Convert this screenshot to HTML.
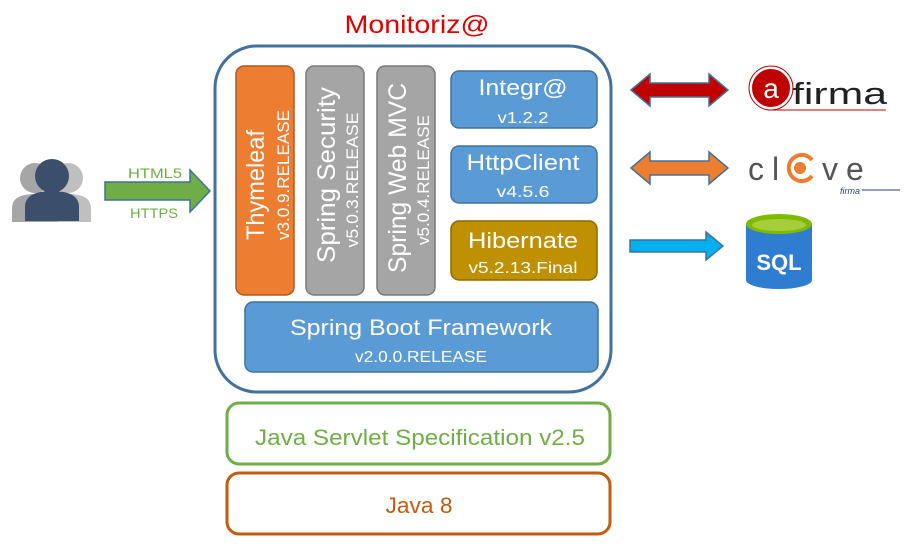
<!DOCTYPE html>
<html><head><style>body{margin:0;background:#fff}svg{display:block}text{font-family:"Liberation Sans",sans-serif}</style></head>
<body>
<svg width="919" height="549" viewBox="0 0 919 549" xmlns="http://www.w3.org/2000/svg">
<text x="417" y="33" font-size="25" fill="#E00000" text-anchor="middle" textLength="145" lengthAdjust="spacingAndGlyphs">Monitoriz@</text>
<rect x="215" y="46" width="396" height="346" rx="42" fill="#fff" stroke="#41719C" stroke-width="3"/>
<rect x="236" y="66" width="58" height="229" rx="8" fill="#ED7D31" stroke="#AE5A21" stroke-width="1.5"/>
<rect x="306" y="66" width="58" height="229" rx="8" fill="#A5A5A5" stroke="#787878" stroke-width="1.5"/>
<rect x="377" y="66" width="58" height="229" rx="8" fill="#A5A5A5" stroke="#787878" stroke-width="1.5"/>
<g fill="#fff" text-anchor="middle">
<text transform="translate(264,185) rotate(-90)" font-size="25" textLength="110" lengthAdjust="spacingAndGlyphs">Thymeleaf</text>
<text transform="translate(289,175) rotate(-90)" font-size="17" textLength="130" lengthAdjust="spacingAndGlyphs">v3.0.9.RELEASE</text>
<text transform="translate(335,175) rotate(-90)" font-size="25" textLength="176" lengthAdjust="spacingAndGlyphs">Spring Security</text>
<text transform="translate(358,180) rotate(-90)" font-size="17" textLength="135" lengthAdjust="spacingAndGlyphs">v5.0.3.RELEASE</text>
<text transform="translate(406,178) rotate(-90)" font-size="25" textLength="190" lengthAdjust="spacingAndGlyphs">Spring Web MVC</text>
<text transform="translate(429,180) rotate(-90)" font-size="17" textLength="130" lengthAdjust="spacingAndGlyphs">v5.0.4.RELEASE</text>
</g>
<rect x="451" y="71" width="146" height="57" rx="8" fill="#5B9BD5" stroke="#41719C" stroke-width="1.5"/>
<rect x="451" y="146" width="146" height="57" rx="8" fill="#5B9BD5" stroke="#41719C" stroke-width="1.5"/>
<rect x="451" y="221" width="146" height="59" rx="8" fill="#BF9000" stroke="#8C6A00" stroke-width="1.5"/>
<rect x="245" y="302" width="353" height="70" rx="8" fill="#5B9BD5" stroke="#41719C" stroke-width="1.5"/>
<g fill="#fff" text-anchor="middle">
<text x="523" y="95" font-size="22" textLength="89" lengthAdjust="spacingAndGlyphs">Integr@</text>
<text x="523" y="123" font-size="16" textLength="51" lengthAdjust="spacingAndGlyphs">v1.2.2</text>
<text x="523" y="170" font-size="22" textLength="113" lengthAdjust="spacingAndGlyphs">HttpClient</text>
<text x="523" y="197" font-size="16" textLength="53" lengthAdjust="spacingAndGlyphs">v4.5.6</text>
<text x="523" y="248" font-size="22" textLength="110" lengthAdjust="spacingAndGlyphs">Hibernate</text>
<text x="523" y="273" font-size="16" textLength="109" lengthAdjust="spacingAndGlyphs">v5.2.13.Final</text>
<text x="421" y="335" font-size="22" textLength="262" lengthAdjust="spacingAndGlyphs">Spring Boot Framework</text>
<text x="421" y="362" font-size="16" textLength="132" lengthAdjust="spacingAndGlyphs">v2.0.0.RELEASE</text>
</g>
<rect x="227" y="403" width="383" height="61" rx="12" fill="#fff" stroke="#70AD47" stroke-width="3"/>
<text x="420" y="445" font-size="22" fill="#70AD47" text-anchor="middle" textLength="330" lengthAdjust="spacingAndGlyphs">Java Servlet Specification v2.5</text>
<rect x="227" y="473" width="383" height="61" rx="12" fill="#fff" stroke="#C55A11" stroke-width="3"/>
<text x="419" y="513" font-size="22" fill="#C55A11" text-anchor="middle" textLength="67" lengthAdjust="spacingAndGlyphs">Java 8</text>
<!-- users -->
<g fill="#BFBFBF"><circle cx="68" cy="178" r="15"/><path d="M45,222 v-14 q0,-14 23,-14 q23,0 23,14 v14z"/></g>
<g fill="#A6A6A6"><circle cx="35" cy="178" r="15"/><path d="M12,222 v-14 q0,-14 23,-14 q23,0 23,14 v14z"/></g>
<g fill="#3B4E6B"><circle cx="52" cy="176" r="17"/><path d="M25,221 v-14 q0,-16 27,-16 q27,0 27,16 v14z"/></g>
<path d="M105,182 H190 V170 L210,191 L190,212 V200 H105Z" fill="#70AD47" stroke="#41719C" stroke-width="1.5"/>
<text x="155" y="178" font-size="14" fill="#70AD47" text-anchor="middle" textLength="54" lengthAdjust="spacingAndGlyphs">HTML5</text>
<text x="154" y="218" font-size="14" fill="#70AD47" text-anchor="middle" textLength="48" lengthAdjust="spacingAndGlyphs">HTTPS</text>
<!-- arrows -->
<path d="M631,90 L650,74 V83 H709 V74 L728,90 L709,106 V97 H650 V106Z" fill="#C00000" stroke="#41719C" stroke-width="1.5"/>
<path d="M631,168 L650,152 V161 H709 V152 L728,168 L709,184 V175 H650 V184Z" fill="#ED7D31" stroke="#41719C" stroke-width="1.5"/>
<path d="M630,240 H706 V232 L723,246 L706,260 V252 H630Z" fill="#00B0F0" stroke="#41719C" stroke-width="1.5"/>
<!-- afirma -->
<circle cx="771" cy="88" r="20" fill="#C00000" stroke="#fff" stroke-width="2"/>
<circle cx="771" cy="88" r="22" fill="none" stroke="#C00000" stroke-width="1"/>
<text x="771" y="98" font-size="28" fill="#fff" text-anchor="middle">a</text>
<text x="792" y="104" font-size="31" fill="#222" textLength="95" lengthAdjust="spacingAndGlyphs">firma</text>
<line x1="772" y1="110" x2="886" y2="110" stroke="#C00000" stroke-width="1"/>
<!-- clave -->
<text x="748" y="180" font-size="32" fill="#555" letter-spacing="8">cl</text>
<path d="M812,160 A13,13 0 1 0 812,176" fill="none" stroke="#ED7D31" stroke-width="4"/>
<circle cx="800" cy="168" r="6" fill="#ED7D31"/>
<text x="822" y="180" font-size="32" fill="#555" letter-spacing="8">ve</text>
<text x="840" y="194" font-size="9" fill="#2F3E7A" font-style="italic">firma</text>
<line x1="862" y1="190" x2="900" y2="190" stroke="#2F3E7A"/>
<!-- sql -->
<path d="M746,224 V280 A33,9 0 0 0 812,280 V224Z" fill="#2F7DD1"/>
<ellipse cx="779" cy="224" rx="33" ry="10" fill="#7FBA00"/>
<ellipse cx="779" cy="225" rx="27" ry="6" fill="#A5CE3A"/>
<text x="779" y="270" font-size="22" font-weight="bold" fill="#fff" text-anchor="middle">SQL</text>
</svg>
</body></html>
